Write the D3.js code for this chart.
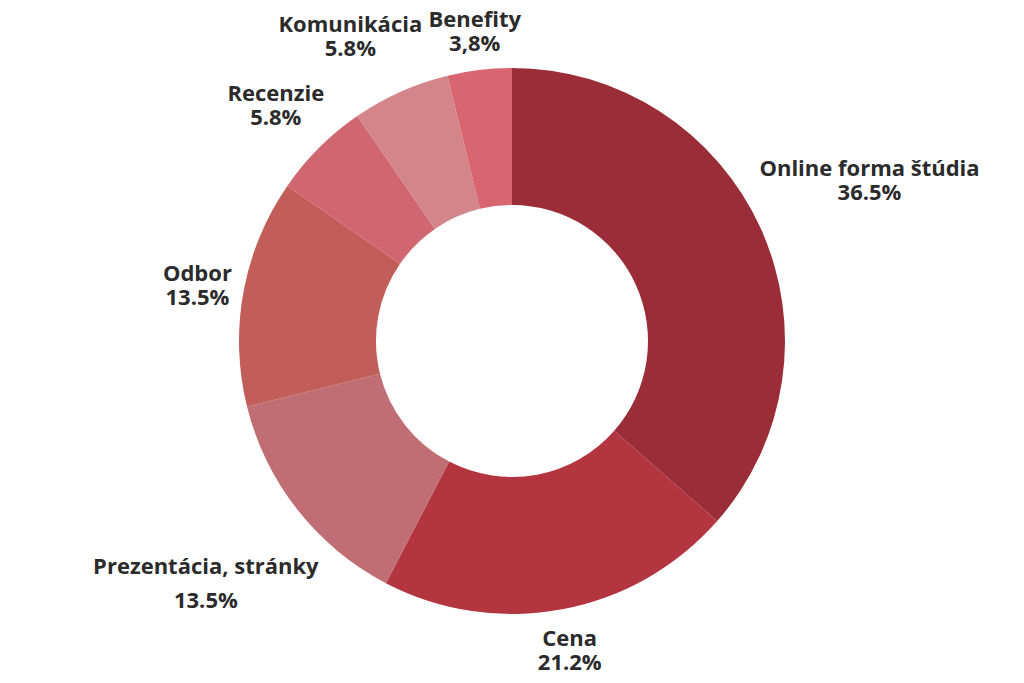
<!DOCTYPE html>
<html><head><meta charset="utf-8">
<script src="https://cdn.jsdelivr.net/npm/d3@7/dist/d3.min.js"></script>
<style>body{margin:0;background:#fff}</style></head>
<body><svg id="c" width="1024" height="683"></svg>
<script>
const categories = ["Online forma štúdia","Cena","Prezentácia, stránky","Odbor","Recenzie","Komunikácia","Benefity"];
const values = [36.5,21.2,13.5,13.5,5.8,5.8,3.8];
const valueLabels = ["36.5%","21.2%","13.5%","13.5%","5.8%","5.8%","3,8%"];
const colors = ["#9B2D38","#B33540","#C06E73","#C25E5A","#CF6670","#D4858A","#D86570"];

const svg = d3.select("#c");
const cx = 512, cy = 341, R = 273, r0 = 136;
const g = svg.append("g").attr("transform", `translate(${cx},${cy})`);
const pie = d3.pie().sort(null).value(d => d)(values);
const arc = d3.arc().innerRadius(r0).outerRadius(R);
g.selectAll("path").data(pie).join("path").attr("d", arc).attr("fill", (d,i) => colors[i]);

const boxes = [];
pie.forEach((d,i) => {
  const a = (d.startAngle + d.endAngle) / 2;
  const t = g.append("text").attr("text-anchor","middle")
    .style("font-family","'Open Sans', sans-serif").style("font-weight","bold")
    .style("font-size","22px").attr("fill","#2b2b2b");
  t.append("tspan").attr("x",0).attr("dy",0).text(categories[i]);
  t.append("tspan").attr("x",0).attr("dy", i===2 ? "1.55em" : "1.1em").text(valueLabels[i]);
  const bb = t.node().getBBox();
  const w = bb.width, h = bb.height;
  const rr = R + 8 + Math.abs(Math.sin(a))*w/2 + Math.abs(Math.cos(a))*h/2;
  let x = Math.sin(a)*rr, y = -Math.cos(a)*rr - (bb.y + h/2);
  boxes.push({t, x, y, w});
});
// resolve overlap at top: shift Komunikácia left of Benefity
const k = boxes[5], b = boxes[6];
const overlap = (k.x + k.w/2 + 6) - (b.x - b.w/2);
if (overlap > 0) k.x -= overlap;
boxes.forEach(o => o.t.attr("transform", `translate(${o.x},${o.y})`));
</script></body></html>
